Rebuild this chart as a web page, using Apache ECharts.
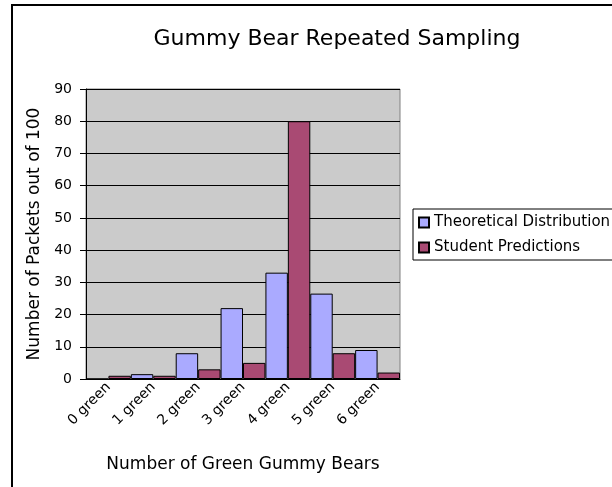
<!DOCTYPE html>
<html>
<head>
<meta charset="utf-8">
<script src="https://cdn.jsdelivr.net/npm/echarts@6/dist/echarts.min.js"></script>
<style>
  html, body { margin: 0; padding: 0; background: #fff; }
  #chart { width: 612px; height: 487px; }
</style>
</head>
<body>
<div id="chart"></div>
<script>
const categories = ['0 green', '1 green', '2 green', '3 green', '4 green', '5 green', '6 green']
const theoretical = [0, 1.5, 8, 22, 33, 26.5, 9]
const predictions = [1, 1, 3, 5, 80, 8, 2]
const yTicks = { min: 0, max: 90, interval: 10 }

const font = 'DejaVu Sans'
const chart = echarts.init(document.getElementById('chart'))

chart.setOption({
  backgroundColor: '#fff',
  animation: false,
  title: {
    text: 'Gummy Bear Repeated Sampling',
    left: 332,
    top: 23,
    textAlign: 'center',
    textStyle: { fontFamily: font, fontSize: 22, fontWeight: 'normal', color: '#000' }
  },
  // chart area border (cut off at right and bottom in the original)
  graphic: [
    {
      type: 'rect',
      shape: { x: 12, y: 5, width: 700, height: 600 },
      style: { fill: 'none', stroke: '#000', lineWidth: 2 },
      silent: true
    }
  ],
  legend: {
    orient: 'vertical',
    left: 413,
    top: 209,
    padding: [6, 6, 5, 5],
    itemGap: 10,
    itemWidth: 10,
    itemHeight: 10,
    borderColor: '#000',
    borderWidth: 1,
    backgroundColor: '#fff',
    icon: 'rect',
    textStyle: { fontFamily: font, fontSize: 15, color: '#000' }
  },
  grid: {
    left: 86,
    right: 212,
    top: 89,
    bottom: 108,
    show: true,
    backgroundColor: '#cbcbcb',
    borderColor: '#808080',
    borderWidth: 1
  },
  xAxis: {
    type: 'category',
    data: categories,
    name: 'Number of Green Gummy Bears',
    nameLocation: 'middle',
    nameGap: 77,
    nameTextStyle: { fontFamily: font, fontSize: 17, color: '#000' },
    axisLine: { lineStyle: { color: '#000', width: 1 } },
    axisTick: { length: 5, lineStyle: { color: '#000' } },
    axisLabel: { rotate: 45, margin: 6, fontFamily: font, fontSize: 14, color: '#000', interval: 0 }
  },
  yAxis: {
    type: 'value',
    min: yTicks.min,
    max: yTicks.max,
    interval: yTicks.interval,
    name: 'Number of Packets out of 100',
    nameLocation: 'middle',
    nameGap: 41,
    nameTextStyle: { fontFamily: font, fontSize: 17, color: '#000' },
    axisLine: { show: true, lineStyle: { color: '#000', width: 1 } },
    axisTick: { show: true, length: 6, lineStyle: { color: '#000' } },
    axisLabel: { margin: 14, fontFamily: font, fontSize: 14, color: '#000' },
    splitLine: { lineStyle: { color: '#000', width: 1 } }
  },
  series: [
    {
      name: 'Theoretical Distribution',
      type: 'bar',
      data: theoretical,
      barGap: '0%',
      barCategoryGap: '0%',
      itemStyle: { color: '#aaaaff', borderColor: '#000', borderWidth: 1 }
    },
    {
      name: 'Student Predictions',
      type: 'bar',
      data: predictions,
      barGap: '0%',
      barCategoryGap: '0%',
      itemStyle: { color: '#a94a73', borderColor: '#000', borderWidth: 1 }
    }
  ]
})
</script>
</body>
</html>
